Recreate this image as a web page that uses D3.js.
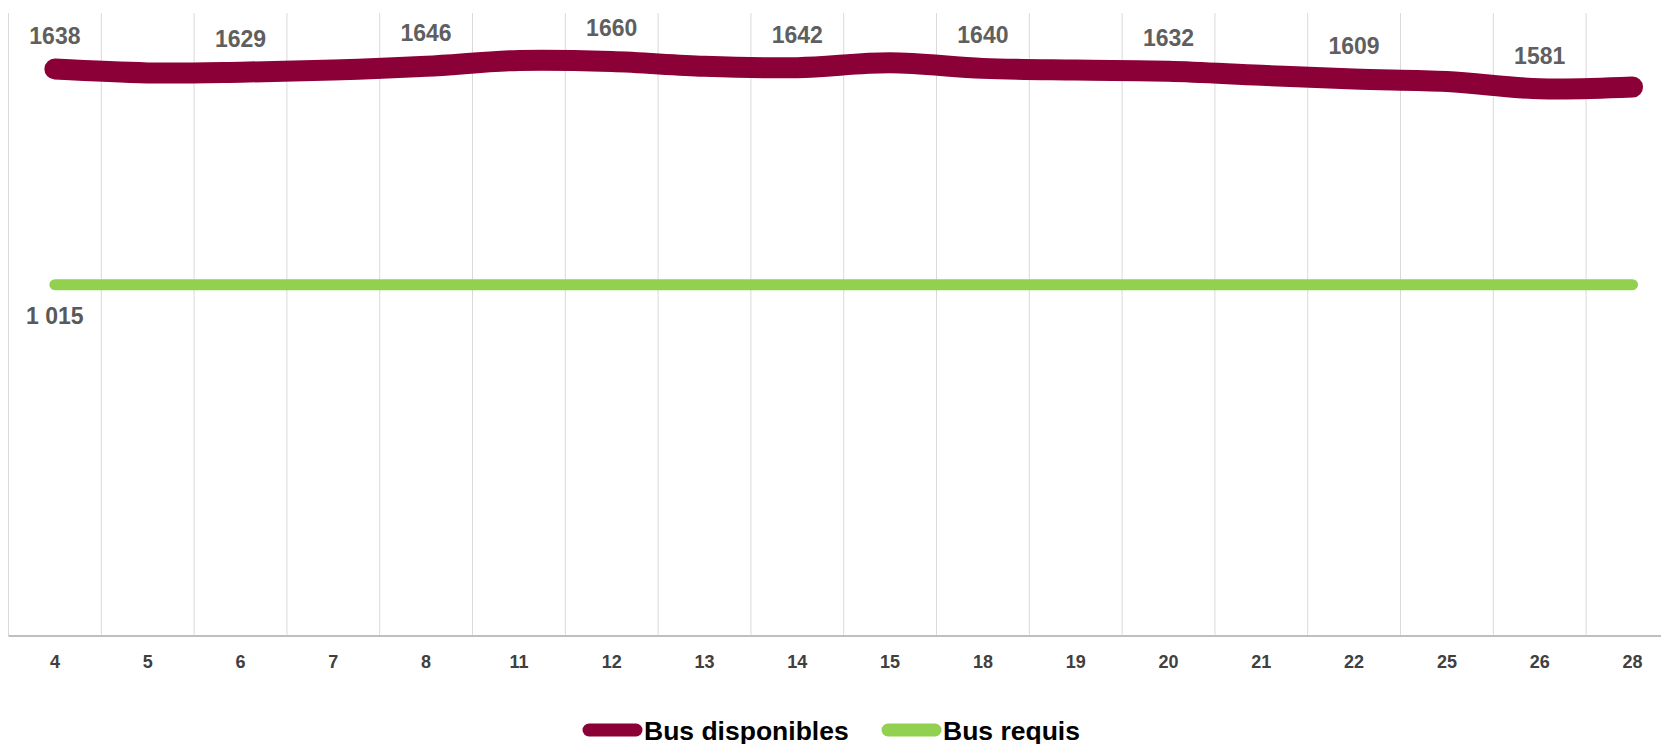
<!DOCTYPE html>
<html>
<head>
<meta charset="utf-8">
<script src="https://cdn.jsdelivr.net/npm/d3@7"></script>
<style>
html,body{margin:0;padding:0;background:#fff;overflow:hidden;}
svg{display:block;font-family:"Liberation Sans",Arial,sans-serif;}
</style>
</head>
<body>
<svg id="chart" width="1661" height="744"></svg>
<script>
// ---- data ----
const categories = ["4","5","6","7","8","11","12","13","14","15","18","19","20","21","22","25","26","28"];
const busDisponibles = [1638,1627,1629,1635,1646,1663,1660,1646,1642,1656,1640,1635,1632,1620,1609,1602,1581,1586];
const busRequis = [1015,1015,1015,1015,1015,1015,1015,1015,1015,1015,1015,1015,1015,1015,1015,1015,1015,1015];
const labelledDisponibles = [0,2,4,6,8,10,12,14,16];
const labelledRequis = [0];
const seriesNames = ["Bus disponibles","Bus requis"];
const yDomain = [0,1800];

// ---- layout ----
const svg = d3.select("#chart");
const plotLeft = 8.5, bandStep = 92.8, plotTop = 13, plotBottom = 636;
const x = d3.scaleBand().domain(categories).range([plotLeft, plotLeft + categories.length*bandStep]).paddingInner(0).paddingOuter(0);
const y = d3.scaleLinear().domain(yDomain).range([plotBottom, plotTop]);
const cx = c => x(c) + x.bandwidth()/2;

// gridlines at band boundaries
const bounds = categories.map(c => x(c)).concat([x.range()[1]]);
svg.append("g").selectAll("line").data(bounds).join("line")
  .attr("x1", d => d).attr("x2", d => d)
  .attr("y1", plotTop).attr("y2", plotBottom)
  .attr("stroke", "#d9d9d9").attr("stroke-width", 1);

// x axis
const xAxis = d3.axisBottom(x).tickSize(0).tickPadding(0);
const gx = svg.append("g").attr("transform", `translate(0,${plotBottom})`).call(xAxis);
gx.select(".domain").attr("stroke", "#bfbfbf").attr("stroke-width", 2).attr("d", `M${plotLeft},0H1661`);
gx.selectAll("text")
  .attr("y", 32).attr("dy", 0)
  .attr("font-size", 18).attr("font-weight", "bold")
  .attr("font-family", "Liberation Sans, Arial, sans-serif")
  .attr("fill", "#404040");

// lines
const line = d3.line().x((d,i) => cx(categories[i])).y(d => y(d)).curve(d3.curveCatmullRom.alpha(0));
svg.append("path").datum(busRequis).attr("d", line)
  .attr("fill", "none").attr("stroke", "#92d050").attr("stroke-width", 11).attr("stroke-linecap", "round");
svg.append("path").datum(busDisponibles).attr("d", line)
  .attr("fill", "none").attr("stroke", "#8b0037").attr("stroke-width", 21)
  .attr("stroke-linecap", "round").attr("stroke-linejoin", "round");

// data labels
const frFormat = d3.formatLocale({decimal: ",", thousands: " ", grouping: [3], currency: ["", "€"]}).format(",d");
svg.append("g").selectAll("text").data(labelledDisponibles).join("text")
  .attr("x", i => cx(categories[i]))
  .attr("y", i => y(busDisponibles[i]) - 25)
  .attr("text-anchor", "middle").attr("font-size", 23).attr("font-weight", "bold")
  .attr("fill", "#5f5f5f")
  .text(i => String(busDisponibles[i]));
svg.append("g").selectAll("text").data(labelledRequis).join("text")
  .attr("x", i => cx(categories[i]))
  .attr("y", i => y(busRequis[i]) + 39)
  .attr("text-anchor", "middle").attr("font-size", 23).attr("font-weight", "bold")
  .attr("fill", "#595959")
  .text(i => frFormat(busRequis[i]));

// legend
const legendItems = [
  {name: seriesNames[0], color: "#8b0037", x: 583},
  {name: seriesNames[1], color: "#92d050", x: 882}
];
const lg = svg.append("g").attr("transform", "translate(0,730)");
const li = lg.selectAll("g").data(legendItems).join("g").attr("transform", d => `translate(${d.x},0)`);
li.append("line").attr("x1", 6).attr("x2", 53).attr("y1", 0).attr("y2", 0)
  .attr("stroke", d => d.color).attr("stroke-width", 13).attr("stroke-linecap", "round");
li.append("text").attr("x", 61).attr("y", 9.5)
  .attr("font-size", 26.5).attr("font-weight", "bold").attr("fill", "#000")
  .text(d => d.name);
</script>
</body>
</html>
